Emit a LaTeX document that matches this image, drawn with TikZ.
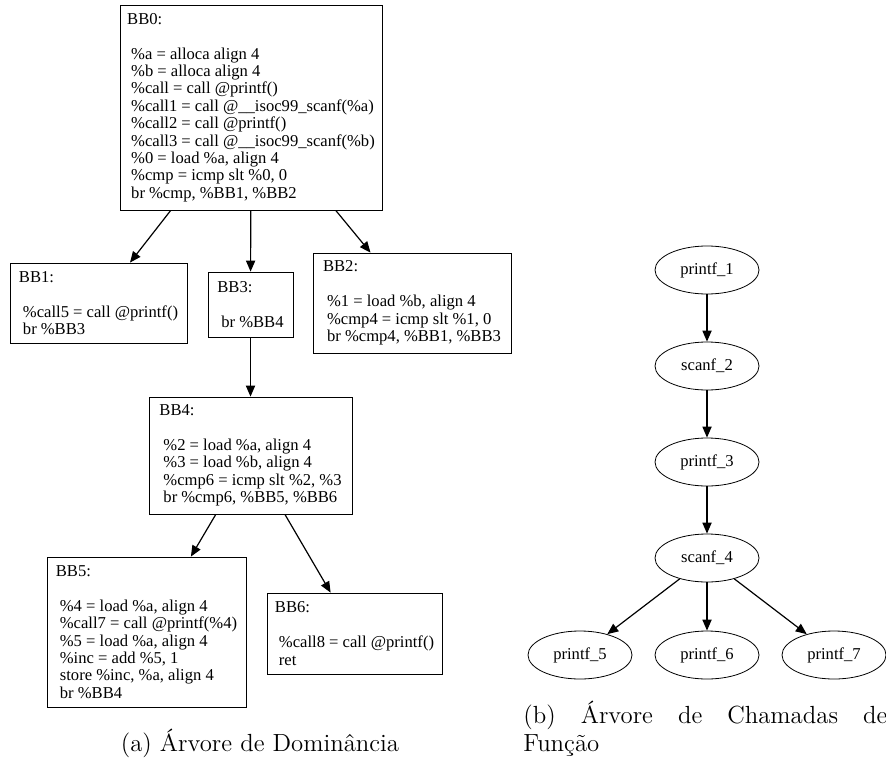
\documentclass[tikz,border=0pt]{standalone}
\usepackage{fontspec}
\newfontfamily\dotfont{Liberation Serif}
\usetikzlibrary{shapes,arrows.meta,positioning}

\newcommand{\bbfont}{\dotfont\fontsize{8.3}{8.7}\selectfont}
\newcommand{\capfont}{\fontsize{12.4}{14}\selectfont}
\newcommand{\ind}{\hspace*{2pt}}

\tikzset{
  bblock/.style={draw, rectangle, align=left, font=\bbfont, inner sep=0pt},
  fcall/.style={draw, ellipse, font=\bbfont, minimum width=52pt, minimum height=24pt, inner sep=0pt},
  flow/.style={-{Triangle[length=5.5pt,width=4.6pt]}, line width=0.6pt},
}

\begin{document}
\begin{tikzpicture}[x=0.5pt, y=-0.5pt]
    \clip (0,0) rectangle (886,764);

    % dominance tree
    \node[bblock, minimum width=131pt, minimum height=102.5pt] (bb0) at (251,107.5) {BB0:\\[8.7pt]
        \ind\%a = alloca align 4\\
        \ind\%b = alloca align 4\\
        \ind\%call = call @printf()\\
        \ind\%call1 = call @\_\_isoc99\_scanf(\%a)\\
        \ind\%call2 = call @printf()\\
        \ind\%call3 = call @\_\_isoc99\_scanf(\%b)\\
        \ind\%0 = load \%a, align 4\\
        \ind\%cmp = icmp slt \%0, 0\\
        \ind br \%cmp, \%BB1, \%BB2};
    \node[bblock, minimum width=88.5pt, minimum height=40pt] (bb1) at (98.5,303) {BB1:\\[8.7pt]
        \ind\%call5 = call @printf()\\
        \ind br \%BB3};
    \node[bblock, minimum width=42.5pt, minimum height=32.5pt] (bb3) at (250.5,304.5) {BB3:\\[8.7pt]
        \ind br \%BB4};
    \node[bblock, minimum width=99pt, minimum height=50pt] (bb2) at (412,303) {BB2:\\[8.7pt]
        \ind\%1 = load \%b, align 4\\
        \ind\%cmp4 = icmp slt \%1, 0\\
        \ind br \%cmp4, \%BB1, \%BB3};
    \node[bblock, minimum width=101.5pt, minimum height=58.5pt] (bb4) at (250.5,455.5) {BB4:\\[8.7pt]
        \ind\%2 = load \%a, align 4\\
        \ind\%3 = load \%b, align 4\\
        \ind\%cmp6 = icmp slt \%2, \%3\\
        \ind br \%cmp6, \%BB5, \%BB6};
    \node[bblock, minimum width=99.5pt, minimum height=75pt] (bb5) at (146.5,632) {BB5:\\[8.7pt]
        \ind\%4 = load \%a, align 4\\
        \ind\%call7 = call @printf(\%4)\\
        \ind\%5 = load \%a, align 4\\
        \ind\%inc = add \%5, 1\\
        \ind store \%inc, \%a, align 4\\
        \ind br \%BB4};
    \node[bblock, minimum width=87.5pt, minimum height=40.5pt] (bb6) at (354.5,633.5) {BB6:\\[8.7pt]
        \ind\%call8 = call @printf()\\
        \ind ret};

    \draw[flow] (bb0) -- (bb1);
    \draw[flow] (bb0) -- (bb3);
    \draw[flow] (bb0) -- (bb2);
    \draw[flow] (bb3) -- (bb4);
    \draw[flow] (bb4) -- (bb5);
    \draw[flow] (bb4) -- (bb6);

    % call tree
    \node[fcall] (printf1) at (707,270) {printf\_1};
    \node[fcall] (scanf2) at (707,366) {scanf\_2};
    \node[fcall] (printf3) at (707,462) {printf\_3};
    \node[fcall] (scanf4) at (707,558) {scanf\_4};
    \node[fcall] (printf5) at (580,655) {printf\_5};
    \node[fcall] (printf6) at (707,655) {printf\_6};
    \node[fcall] (printf7) at (834,655) {printf\_7};

    \draw[flow] (printf1) -- (scanf2);
    \draw[flow] (scanf2) -- (printf3);
    \draw[flow] (printf3) -- (scanf4);
    \draw[flow] (scanf4) -- (printf5);
    \draw[flow] (scanf4) -- (printf6);
    \draw[flow] (scanf4) -- (printf7);

    % captions
    \node[anchor=base, font=\capfont, inner sep=0pt] (capa) at (260,751) {(a) Árvore de Dominância};
    \node[anchor=base west, font=\capfont, text width=182pt, align=justify, inner sep=0pt] (capb) at (523,723)
        {\hyphenpenalty=10000 (b) Árvore de Chamadas de\linebreak Função};
\end{tikzpicture}
\end{document}
